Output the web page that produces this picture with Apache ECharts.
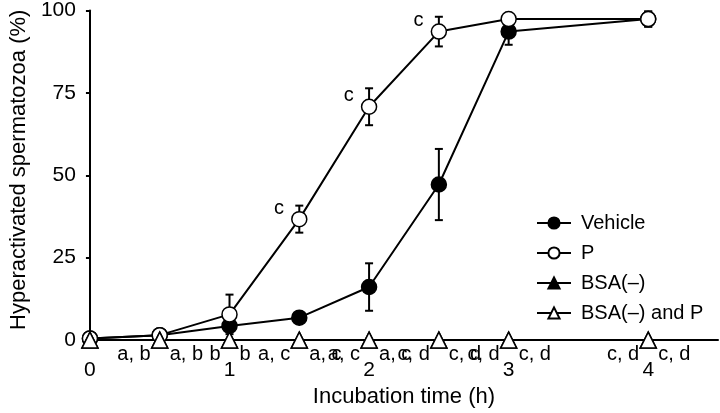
<!DOCTYPE html>
<html>
<head>
<meta charset="utf-8">
<script src="https://cdn.jsdelivr.net/npm/echarts@6/dist/echarts.min.js"></script>
<style>
  html, body { margin: 0; padding: 0; background: #fff; }
  #chart { width: 720px; height: 413px; }
</style>
</head>
<body>
<div id="chart"></div>
<script>
// ---- data ----
const times = [0, 0.5, 1, 1.5, 2, 2.5, 3, 4];
const vehicle = [0.5, 1.5, 4.3, 6.8, 16.1, 47.2, 93.6, 97.4];
const vehicleErr = [0, 0, 0, 0, 7.2, 10.8, 4, 2.3];
const progesterone = [0.5, 1.5, 7.8, 36.7, 70.8, 93.6, 97.4, 97.4];
const progesteroneErr = [0, 0, 6, 4.1, 5.6, 4.5, 0, 2.3];
const bsaFree = [0, 0, 0, 0, 0, 0, 0, 0];
const bsaFreeP = [0, 0, 0, 0, 0, 0, 0, 0];
const sigLeft = ['', 'a, b', 'b', 'a, c', 'a, c', 'c, d', 'c, d', 'c, d'];
const sigRight = ['', 'a, b', 'b', 'a, c', 'a, c', 'c, d', 'c, d', 'c, d'];
const pMarks = ['', '', '', 'c', 'c', 'c', '', ''];
const seriesNames = ['Vehicle', 'P', 'BSA(\u2013)', 'BSA(\u2013) and P'];
const yTicks = [0, 25, 50, 75, 100];
const xTicks = [0, 1, 2, 3, 4];

const FONT = 'Liberation Sans';
const chart = echarts.init(document.getElementById('chart'), null, { renderer: 'canvas' });

function errSeries(vals, errs) {
  return {
    type: 'custom',
    z: 1,
    silent: true,
    data: times.map((t, i) => [t, vals[i], errs[i]]),
    renderItem: function (params, api) {
      const x = api.value(0), y = api.value(1), e = api.value(2);
      if (!e) return null;
      const top = api.coord([x, y + e]);
      const bot = api.coord([x, y - e]);
      const cap = 4;
      const st = { stroke: '#000', lineWidth: 2 };
      return {
        type: 'group',
        children: [
          { type: 'line', shape: { x1: top[0], y1: top[1], x2: bot[0], y2: bot[1] }, style: st },
          { type: 'line', shape: { x1: top[0] - cap, y1: top[1], x2: top[0] + cap, y2: top[1] }, style: st },
          { type: 'line', shape: { x1: bot[0] - cap, y1: bot[1], x2: bot[0] + cap, y2: bot[1] }, style: st }
        ]
      };
    }
  };
}

function lineSeries(name, vals, symbol, size, filled) {
  return {
    name: name,
    type: 'line',
    z: 3,
    data: times.map((t, i) => [t, vals[i]]),
    symbol: symbol,
    symbolSize: size,
    showAllSymbol: true,
    lineStyle: { color: '#000', width: 2 },
    itemStyle: { color: filled ? '#000' : '#fff', borderColor: '#000', borderWidth: 1.5, opacity: 1 }
  };
}

function sigSeries(labels, side) {
  return {
    type: 'custom',
    z: 5,
    silent: true,
    data: times.map((t, i) => [t, 0]),
    renderItem: function (params, api) {
      const txt = labels[params.dataIndex];
      if (!txt) return null;
      const p = api.coord([api.value(0), api.value(1)]);
      return {
        type: 'text',
        style: {
          text: txt,
          x: side === 'left' ? p[0] - 9 : p[0] + 10,
          y: p[1] + 14,
          align: side === 'left' ? 'right' : 'left',
          verticalAlign: 'middle',
          fill: '#000',
          font: '20px "' + FONT + '"'
        }
      };
    }
  };
}

const option = {
  animation: false,
  backgroundColor: '#fff',
  grid: { left: 86, right: 2, top: 7, bottom: 72, containLabel: false },
  xAxis: {
    type: 'value',
    min: 0, max: 4.5, interval: 1,
    name: 'Incubation time (h)',
    nameLocation: 'middle',
    nameGap: 45,
    nameTextStyle: { color: '#000', fontFamily: FONT, fontSize: 22 },
    axisLine: { onZero: false, lineStyle: { color: '#000', width: 2 } },
    axisTick: { show: false },
    splitLine: { show: false },
    axisLabel: {
      color: '#000', fontFamily: FONT, fontSize: 21, margin: 20,
      showMaxLabel: false,
      formatter: v => (xTicks.indexOf(v) >= 0 ? String(v) : '')
    }
  },
  yAxis: {
    type: 'value',
    min: 0, max: 100, interval: 25,
    name: 'Hyperactivated spermatozoa (%)',
    nameLocation: 'middle',
    nameGap: 55,
    nameTextStyle: { color: '#000', fontFamily: FONT, fontSize: 22, padding: [0, 0, 0, 11] },
    axisLine: { show: true, lineStyle: { color: '#000', width: 2 } },
    axisTick: { show: true, inside: false, length: 4, lineStyle: { color: '#000', width: 2 } },
    splitLine: { show: false },
    axisLabel: {
      color: '#000', fontFamily: FONT, fontSize: 21, margin: 14,
      formatter: v => (yTicks.indexOf(v) >= 0 ? String(v) : '')
    }
  },
  legend: {
    orient: 'vertical',
    left: 536,
    top: 213,
    padding: 0,
    itemGap: 10,
    itemWidth: 34,
    itemHeight: 14,
    data: seriesNames,
    textStyle: { color: '#000', fontFamily: FONT, fontSize: 20, padding: [0, 0, 0, 5] }
  },
  series: [
    errSeries(vehicle, vehicleErr),
    errSeries(progesterone, progesteroneErr),
    lineSeries(seriesNames[0], vehicle, 'circle', 15, true),
    Object.assign(lineSeries(seriesNames[1], progesterone, 'circle', 15, false), {
      label: {
        show: true,
        position: 'left',
        distance: 7,
        offset: [0, -11],
        color: '#000',
        fontFamily: FONT,
        fontSize: 20,
        formatter: p => pMarks[p.dataIndex]
      }
    }),
    lineSeries(seriesNames[2], bsaFree, 'triangle', 16, true),
    lineSeries(seriesNames[3], bsaFreeP, 'triangle', 16, false),
    sigSeries(sigLeft, 'left'),
    sigSeries(sigRight, 'right')
  ]
};
chart.setOption(option);
</script>
</body>
</html>
